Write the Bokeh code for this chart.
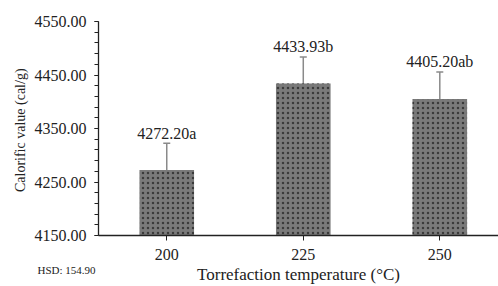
from bokeh.plotting import figure
from bokeh.models import ColumnDataSource, Whisker, TeeHead, Title, FixedTicker, Range1d
from bokeh.core.properties import value
from bokeh.embed import file_html
from bokeh.resources import INLINE

temps = ["200", "225", "250"]
calorific = [4272.20, 4433.93, 4405.20]
errors = [50.1, 49.8, 50.6]
letters = ["a", "b", "ab"]
y_ticks = [4150, 4250, 4350, 4450, 4550]
hsd_text = "HSD:  154.90"

xs = [i + 0.5 for i in range(len(temps))]
labels = [f"{v:.2f}{l}" for v, l in zip(calorific, letters)]
upper = [v + e for v, e in zip(calorific, errors)]
lower = [v - e for v, e in zip(calorific, errors)]

src = ColumnDataSource(dict(x=xs, top=calorific, upper=upper, lower=lower, label=labels))

FONT = "Liberation Serif"

p = figure(width=498, height=286, output_backend="svg", toolbar_location=None,
           x_range=Range1d(0, 2.93), y_range=Range1d(4150, 4550),
           min_border_left=98, min_border_right=0, min_border_top=21, min_border_bottom=49)
p.outline_line_color = None
p.grid.grid_line_color = None
p.background_fill_color = "white"

p.vbar(x="x", top="top", bottom=4150, width=0.4, source=src,
       fill_color="#7a7a7a", line_color=None,
       hatch_pattern="dot", hatch_scale=5, hatch_color="#2a2a2a", hatch_alpha=0.8)

w = Whisker(base="x", upper="upper", lower="lower", source=src,
            line_color="#8a8a8a", line_width=1.5,
            upper_head=TeeHead(size=7, line_color="#8a8a8a", line_width=1.5),
            lower_head=TeeHead(size=5, line_color="#8a8a8a", line_width=1))
p.add_layout(w)

p.text(x="x", y="top", text="label", source=src, text_align="center",
       text_baseline="middle", y_offset=-37, text_font=value(FONT),
       text_font_size="16px", text_color="#222222")

# axes
p.xaxis.ticker = FixedTicker(ticks=xs)
p.xaxis.major_label_overrides = {x: t for x, t in zip(xs, temps)}
p.xaxis.major_tick_out = 5
p.xaxis.major_tick_in = 0
p.xaxis.major_label_standoff = 8
p.xaxis.axis_label = "Torrefaction temperature (°C)"
p.xaxis.axis_label_standoff = 2

p.yaxis.ticker = FixedTicker(ticks=y_ticks, minor_ticks=list(range(4150, 4551, 20)))
p.yaxis.major_label_overrides = {t: f"{t:.2f}" for t in y_ticks}
p.yaxis.major_tick_out = 4
p.yaxis.major_tick_in = 0
p.yaxis.minor_tick_out = 4
p.yaxis.minor_tick_in = 0
p.yaxis.major_label_standoff = 8
p.yaxis.axis_label = "Calorific  value (cal/g)"
p.yaxis.axis_label_standoff = 4

for ax in (p.xaxis, p.yaxis):
    ax.axis_line_color = "#222222"
    ax.axis_line_width = 1.3
    ax.major_tick_line_color = "#222222"
    ax.minor_tick_line_color = "#222222"
    ax.major_label_text_font = FONT
    ax.major_label_text_font_size = "16px"
    ax.major_label_text_color = "#222222"
    ax.axis_label_text_font = FONT
    ax.axis_label_text_font_style = "normal"
    ax.axis_label_text_color = "#222222"
p.xaxis.axis_label_text_font_size = "17px"
p.yaxis.axis_label_text_font_size = "14px"
p.xaxis.minor_tick_line_color = None

hsd = Title(text=hsd_text, align="left", vertical_align="top", offset=-61, standoff=-46,
            text_font=FONT, text_font_size="11px", text_font_style="normal",
            text_color="#222222")
p.add_layout(hsd, "below")

open("out.html", "w").write(file_html(p, INLINE))
